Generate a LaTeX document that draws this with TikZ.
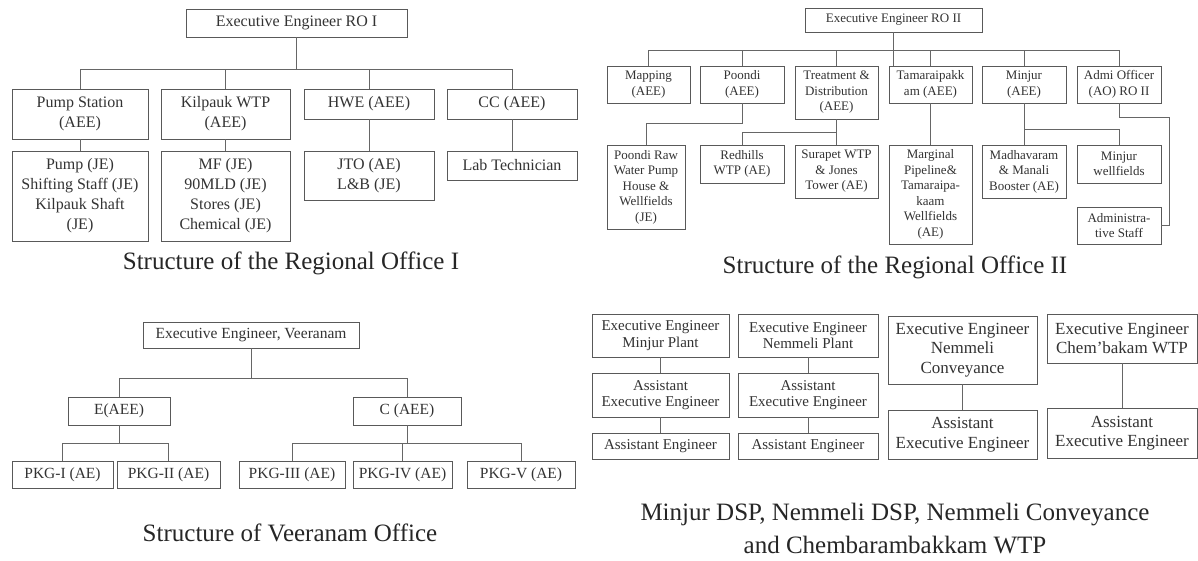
\documentclass[tikz,border=0pt]{standalone}
\usepackage{fontspec}
\setmainfont{Liberation Serif}

\begin{document}
\begin{tikzpicture}
  [x=1pt,y=-1pt,
   box/.style={draw=black!65,line width=0.8pt,align=center,inner sep=0pt,text=black!80},
   sz/.style 2 args={minimum width=#1,minimum height=#2},
   fa/.style={font=\fontsize{16}{20}\selectfont},
   fb/.style={font=\fontsize{13}{15.5}\selectfont},
   fc/.style={font=\fontsize{15.5}{18}\selectfont},
   fd/.style={font=\fontsize{15}{16.5}\selectfont},
   fe/.style={font=\fontsize{17}{19.5}\selectfont},
   ttl/.style={font=\fontsize{25}{33}\selectfont,text=black!85,align=center},
   wire/.style={draw=black!60,line width=0.8pt}]
  \useasboundingbox[fill=white] (0,0) rectangle (1198,560);

  % regional office I
  \node[box,fa,sz={221}{28}] (ro1) at (296.5,23) {Executive Engineer RO I};
  \node[box,fa,sz={136}{50}] (ps) at (80,114) {Pump Station\\(AEE)};
  \node[box,fa,sz={129}{50}] (kw) at (225.5,114) {Kilpauk WTP\\(AEE)};
  \node[box,fa,sz={130}{30}] (hwe) at (369,104) {HWE (AEE)};
  \node[box,fa,sz={130}{30}] (cc) at (512,104) {CC (AEE)};
  \node[box,fa,sz={136}{90}] (pje) at (80,196) {Pump (JE)\\Shifting Staff (JE)\\Kilpauk Shaft\\(JE)};
  \node[box,fa,sz={129}{90}] (mf) at (225.5,196) {MF (JE)\\90MLD (JE)\\Stores (JE)\\Chemical (JE)};
  \node[box,fa,sz={130}{49}] (jto) at (369,175.5) {JTO (AE)\\L\&B (JE)};
  \node[box,fa,sz={130}{29}] (lab) at (512,165.5) {Lab Technician};
  \node[ttl] (t1) at (291,263) {Structure of the Regional Office I};
  \foreach \c in {ps,kw,hwe,cc}
    \draw[wire] (ro1.south) -- ++(0,32) -| (\c.north);
  \foreach \from/\to in {ps/pje,kw/mf,hwe/jto,cc/lab}
    \draw[wire] (\from) -- (\to);

  % regional office II
  \node[box,fb,sz={177}{24}] (ro2) at (893.5,20) {Executive Engineer RO II};
  \node[box,fb,sz={83}{37}] (map) at (648.5,84.5) {Mapping\\(AEE)};
  \node[box,fb,sz={84}{37}] (pnd) at (742,84.5) {Poondi\\(AEE)};
  \node[box,fb,sz={83}{53}] (trd) at (836.5,92.5) {Treatment \&\\Distribution\\(AEE)};
  \node[box,fb,sz={83}{37}] (tam) at (930.5,84.5) {Tamaraipakk\\am (AEE)};
  \node[box,fb,sz={84}{37}] (mnj) at (1024,84.5) {Minjur\\(AEE)};
  \node[box,fb,sz={84}{37}] (adm) at (1119,84.5) {Admi Officer\\(AO) RO II};
  \node[box,fb,sz={78}{84}] (praw) at (646,187) {Poondi Raw\\Water Pump\\House \&\\Wellfields\\(JE)};
  \node[box,fb,sz={84}{38}] (red) at (742,164) {Redhills\\WTP (AE)};
  \node[box,fb,sz={83}{53}] (sur) at (836.5,171.5) {Surapet WTP\\\& Jones\\Tower (AE)};
  \node[box,fb,sz={83}{99}] (mrg) at (930.5,194.5) {Marginal\\Pipeline\&\\Tamaraipa-\\kaam\\Wellfields\\(AE)};
  \node[box,fb,sz={84}{53}] (mad) at (1024,171.5) {Madhavaram\\\& Manali\\Booster (AE)};
  \node[box,fb,sz={84}{38}] (mwf) at (1119,164) {Minjur\\wellfields};
  \node[box,fb,sz={84}{37}] (ast) at (1119,225.5) {Administra-\\tive Staff};
  \coordinate (admr) at (1169,117);
  \node[ttl] (t2) at (895,267) {Structure of the Regional Office II};
  \foreach \c in {map,pnd,trd,tam,mnj,adm}
    \draw[wire] (ro2.south) -- ++(0,18) -| (\c.north);
  \draw[wire] (ro2.south) -- (ro2.south |- tam.north);
  \draw[wire] (pnd.south) -- ++(0,20) -| (praw.north);
  \draw[wire] (trd.south) -- ++(0,13) -| (red.north);
  \draw[wire] (mnj.south) -- ++(0,26) -| (mwf.north);
  \foreach \from/\to in {trd/sur,tam/mrg,mnj/mad}
    \draw[wire] (\from) -- (\to);
  \draw[wire] (adm.south) |- (admr) |- (ast.east);

  % veeranam
  \node[box,fc,sz={216}{26}] (vee) at (251,335) {Executive Engineer, Veeranam};
  \node[box,fc,sz={102}{28}] (ea) at (119,411) {E(AEE)};
  \node[box,fc,sz={108}{28}] (ca) at (407,411) {C (AEE)};
  \node[box,fc,sz={101}{27}] (p1) at (62.5,474.5) {PKG-I (AE)};
  \node[box,fc,sz={103}{27}] (p2) at (168.5,474.5) {PKG-II (AE)};
  \node[box,fc,sz={106}{27}] (p3) at (292,474.5) {PKG-III (AE)};
  \node[box,fc,sz={99}{27}] (p4) at (402.5,474.5) {PKG-IV (AE)};
  \node[box,fc,sz={108}{27}] (p5) at (521,474.5) {PKG-V (AE)};
  \node[ttl] (t3) at (290,533) {Structure of Veeranam Office};
  \foreach \c in {ea,ca}
    \draw[wire] (vee.south) -- ++(0,30) -| (\c.north);
  \foreach \c in {p1,p2}
    \draw[wire] (ea.south) -- ++(0,18) -| (\c.north);
  \foreach \c in {p3,p4,p5}
    \draw[wire] (ca.south) -- ++(0,18) -| (\c.north);

  % desalination plants, conveyance, chembarambakkam
  \node[box,fd,sz={137}{43}] (em) at (660.5,335.5) {Executive Engineer\\Minjur Plant};
  \node[box,fd,sz={137}{44}] (a1) at (660.5,395) {Assistant\\Executive Engineer};
  \node[box,fd,sz={137}{26}] (e1) at (660.5,446) {Assistant Engineer};
  \node[box,fd,sz={140}{43}] (en) at (808,335.5) {Executive Engineer\\Nemmeli Plant};
  \node[box,fd,sz={140}{44}] (a2) at (808,395) {Assistant\\Executive Engineer};
  \node[box,fd,sz={140}{26}] (e2) at (808,446) {Assistant Engineer};
  \node[box,fe,sz={149}{68}] (ec) at (962.5,350) {Executive Engineer\\Nemmeli\\Conveyance};
  \node[box,fe,sz={149}{49}] (a3) at (962.5,434.5) {Assistant\\Executive Engineer};
  \node[box,fe,sz={150}{49}] (ek) at (1122,338.5) {Executive Engineer\\Chem'bakam WTP};
  \node[box,fe,sz={150}{50}] (a4) at (1122,433) {Assistant\\Executive Engineer};
  \node[ttl] (t4) at (895,528.5) {Minjur DSP, Nemmeli DSP, Nemmeli Conveyance\\and Chembarambakkam WTP};
  \foreach \from/\to in {em/a1,a1/e1,en/a2,a2/e2,ec/a3,ek/a4}
    \draw[wire] (\from) -- (\to);
\end{tikzpicture}
\end{document}
